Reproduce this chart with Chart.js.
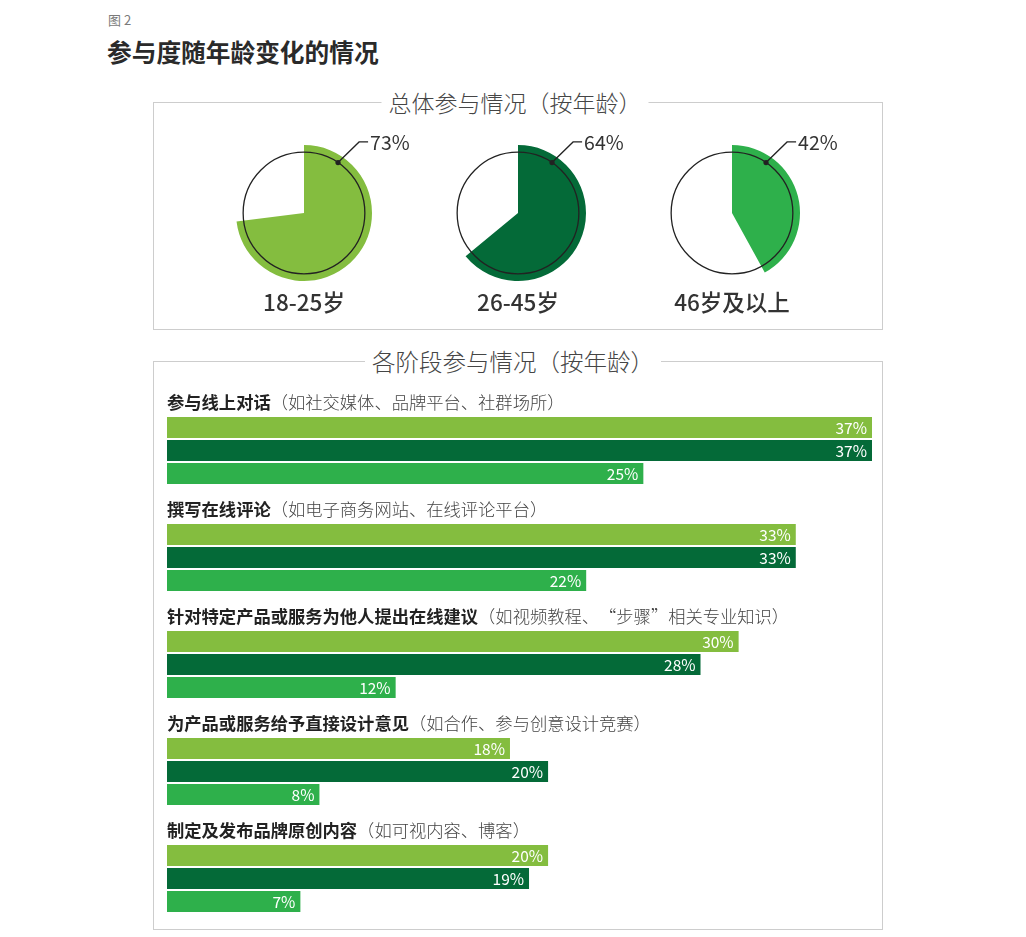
<!DOCTYPE html>
<html><head><meta charset="utf-8">
<script src="https://cdn.jsdelivr.net/npm/chart.js@4.4.0/dist/chart.umd.min.js"></script>
<style>
html,body{margin:0;padding:0;background:#fff;width:1026px;height:937px;overflow:hidden;font-family:"Noto Sans CJK SC","Noto Sans",sans-serif;}
.t{position:absolute;white-space:nowrap;line-height:1.2;transform:translateY(-50%);}
.c{transform:translate(-50%,-50%);}
.box{position:absolute;border:1.5px solid #cdcdcd;box-sizing:border-box;}
.boxtitle{background:#fff;padding:0 7px;font-weight:300;color:#454545;}
canvas{position:absolute;}
</style></head>
<body>
<div class="t" style="left:108px;top:20px;font-size:13px;color:#7a7a7a;">图&nbsp;2</div>
<div class="t" style="left:107px;top:52px;font-size:24.7px;font-weight:700;color:#2a2a2a;">参与度随年龄变化的情况</div>

<div class="box" style="left:153px;top:102px;width:730px;height:228px;"></div>
<div class="t c boxtitle" style="left:515px;top:103px;font-size:23px;">总体参与情况（按年龄）</div>

<div class="box" style="left:153px;top:361px;width:730px;height:569px;"></div>
<div class="t c boxtitle" style="left:513px;top:361px;font-size:23.5px;">各阶段参与情况（按年龄）</div>

<div id="pies"></div>
<canvas id="bars" width="729" height="558" style="left:153px;top:377px;width:729px;height:558px;"></canvas>

<script>
// ---- data ----
const pieCategories = ['18-25岁', '26-45岁', '46岁及以上'];
const pieValues = [73, 64, 42];
const ageColors = ['#84BD3F', '#046A38', '#2EB04B'];

const barCategories = ['参与线上对话', '撰写在线评论', '针对特定产品或服务为他人提出在线建议', '为产品或服务给予直接设计意见', '制定及发布品牌原创内容'];
const barNotes = ['（如社交媒体、品牌平台、社群场所）', '（如电子商务网站、在线评论平台）', '（如视频教程、“步骤”相关专业知识）', '（如合作、参与创意设计竞赛）', '（如可视内容、博客）'];
const age1825 = [37, 33, 30, 18, 20];
const age2645 = [37, 33, 28, 20, 19];
const age46up = [25, 22, 12, 8, 7];

const FONT = '"Noto Sans CJK SC","Noto Sans",sans-serif';

// ---- pies ----
const pieDeco = {
  id: 'pieDeco',
  afterDatasetsDraw(chart) {
    const ctx = chart.ctx;
    const arc = chart.getDatasetMeta(0).data[0];
    const x = arc.x, y = arc.y, R = arc.outerRadius;
    const r = R * 0.895;
    ctx.save();
    ctx.strokeStyle = '#222';
    ctx.lineWidth = 1.3;
    ctx.beginPath();
    ctx.arc(x, y, r, 0, Math.PI * 2);
    ctx.stroke();
    const th = 34 * Math.PI / 180;
    const px = x + r * Math.sin(th), py = y - r * Math.cos(th);
    const ex = x + R * 0.81, ey = y - R * 1.045;
    ctx.beginPath();
    ctx.moveTo(px, py);
    ctx.lineTo(ex, ey);
    ctx.lineTo(ex + 9, ey);
    ctx.stroke();
    ctx.fillStyle = '#222';
    ctx.beginPath();
    ctx.arc(px, py, 2.6, 0, Math.PI * 2);
    ctx.fill();
    ctx.fillStyle = '#333';
    ctx.font = '19.5px ' + FONT;
    ctx.textAlign = 'left';
    ctx.textBaseline = 'middle';
    ctx.fillText(chart.data.datasets[0].data[0] + '%', ex + 11, ey + 1);
    ctx.restore();
  }
};

const pieCx = [304, 518, 732], pieCy = 213;
const piesDiv = document.getElementById('pies');
pieValues.forEach((v, i) => {
  const c = document.createElement('canvas');
  c.width = 214; c.height = 180;
  c.style.left = (pieCx[i] - 107) + 'px';
  c.style.top = (pieCy - 90) + 'px';
  c.style.width = '214px'; c.style.height = '180px';
  piesDiv.appendChild(c);
  const lab = document.createElement('div');
  lab.className = 't c';
  lab.style.cssText = 'left:' + pieCx[i] + 'px;top:301px;font-size:22.5px;font-weight:500;color:#333;';
  lab.textContent = pieCategories[i];
  piesDiv.appendChild(lab);
  new Chart(c, {
    type: 'pie',
    data: {
      labels: [pieCategories[i], ''],
      datasets: [{ data: [v, 100 - v], backgroundColor: [ageColors[i], 'rgba(0,0,0,0)'], borderWidth: 0, hoverOffset: 0 }]
    },
    options: {
      responsive: false, animation: false, events: [],
      layout: { padding: { left: 39, right: 39, top: 22, bottom: 22 } },
      plugins: { legend: { display: false }, tooltip: { enabled: false } }
    },
    plugins: [pieDeco]
  });
});

// ---- bars ----
const barDeco = {
  id: 'barDeco',
  afterDatasetsDraw(chart) {
    const ctx = chart.ctx;
    ctx.save();
    ctx.textBaseline = 'middle';
    chart.data.datasets.forEach((ds, di) => {
      const meta = chart.getDatasetMeta(di);
      meta.data.forEach((el, j) => {
        ctx.fillStyle = '#fff';
        ctx.font = '15.5px ' + FONT;
        ctx.textAlign = 'right';
        ctx.fillText(ds.data[j] + '%', el.x - 5, el.y + 0.5);
      });
    });
    const m0 = chart.getDatasetMeta(0);
    const left = chart.chartArea.left;
    m0.data.forEach((el, j) => {
      const ly = el.y - el.height / 2 - 15;
      ctx.textAlign = 'left';
      ctx.font = '700 17.3px ' + FONT;
      ctx.fillStyle = '#222';
      ctx.fillText(barCategories[j], left, ly);
      const w = ctx.measureText(barCategories[j]).width;
      ctx.font = '300 17.3px ' + FONT;
      ctx.fillStyle = '#444';
      ctx.fillText(barNotes[j], left + w, ly);
    });
    ctx.restore();
  }
};

new Chart(document.getElementById('bars'), {
  type: 'bar',
  data: {
    labels: barCategories,
    datasets: [
      { label: pieCategories[0], data: age1825, backgroundColor: ageColors[0] },
      { label: pieCategories[1], data: age2645, backgroundColor: ageColors[1] },
      { label: pieCategories[2], data: age46up, backgroundColor: ageColors[2] }
    ]
  },
  options: {
    indexAxis: 'y', responsive: false, animation: false, events: [],
    layout: { padding: { left: 14, right: 10, top: 20, bottom: 3 } },
    scales: { x: { display: false, min: 0, max: 37 }, y: { display: false } },
    datasets: { bar: { categoryPercentage: 0.645, barPercentage: 0.913, borderWidth: 0 } },
    plugins: { legend: { display: false }, tooltip: { enabled: false } }
  },
  plugins: [barDeco]
});
</script>
</body></html>
